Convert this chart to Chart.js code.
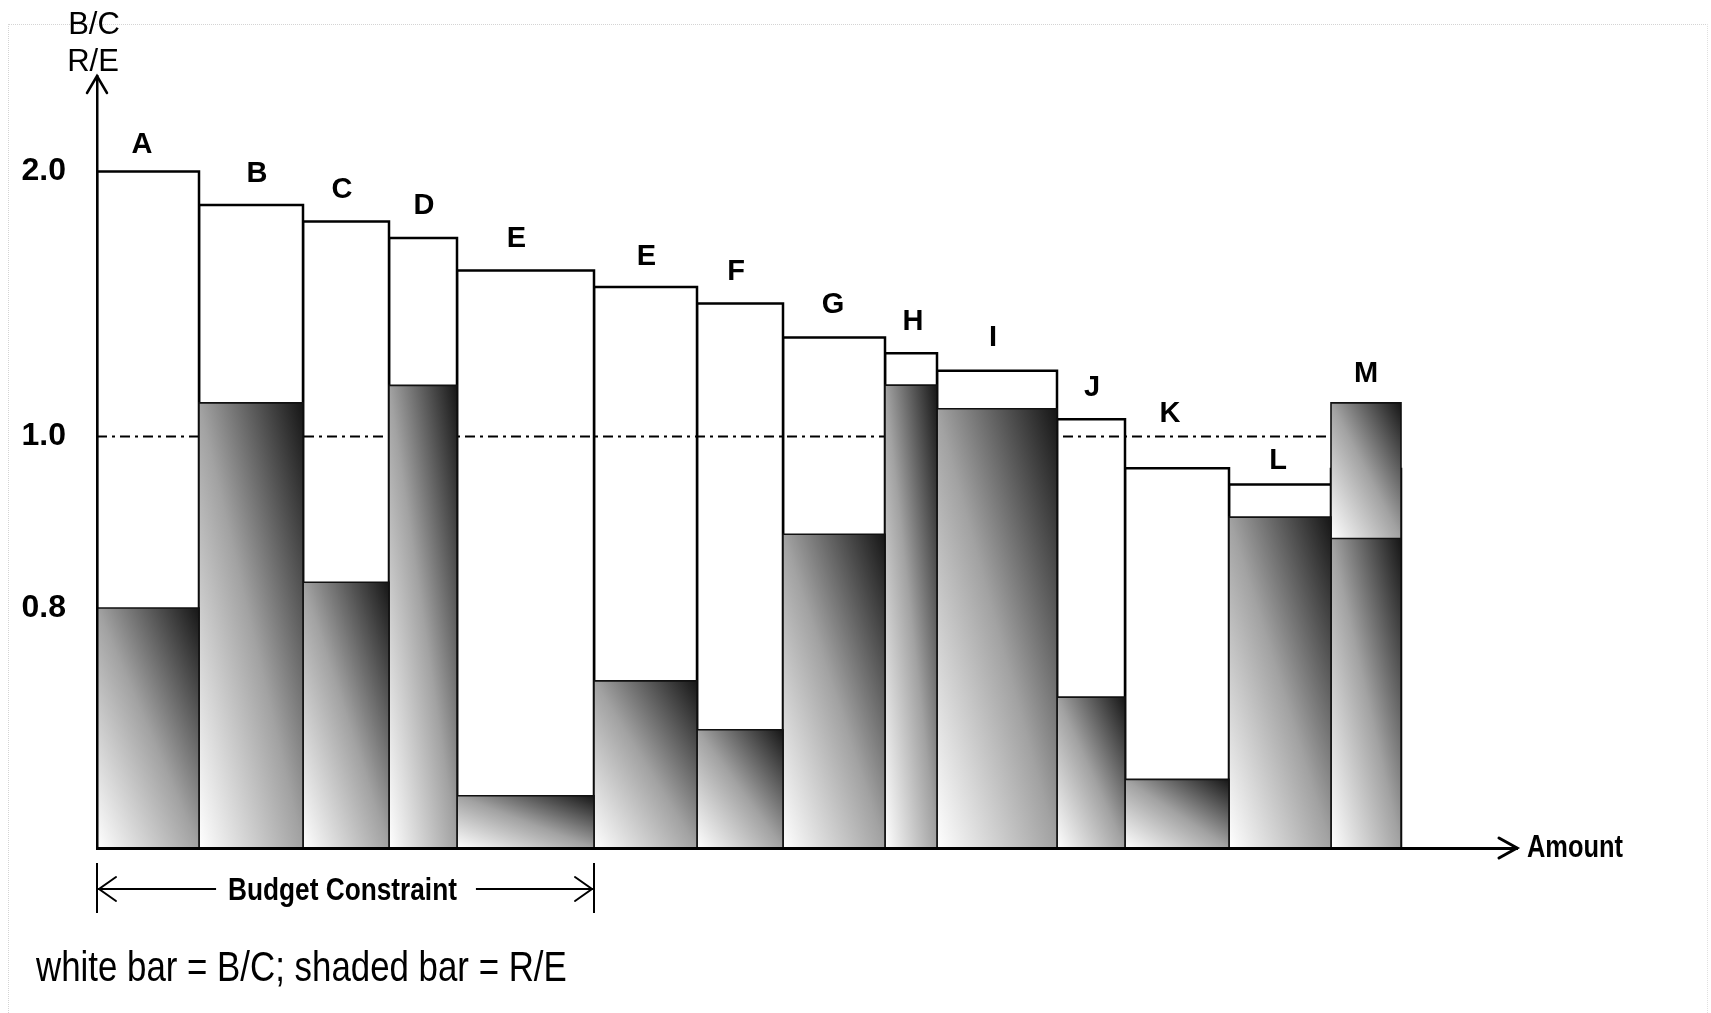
<!DOCTYPE html>
<html>
<head>
<meta charset="utf-8">
<title>B/C and R/E ranking</title>
<script src="https://cdn.jsdelivr.net/npm/chart.js@4.4.1/dist/chart.umd.min.js"></script>
<style>
  html, body { margin: 0; padding: 0; background: #ffffff; }
  #wrap { position: relative; width: 1711px; height: 1013px; overflow: hidden; }
  #frame { position: absolute; left: 8px; top: 24px; width: 1698px; height: 1100px;
           border-left: 1px dotted #d4d4d4; border-top: 1px dotted #d4d4d4; border-right: 1px dotted #e0e0e0; }
  #c { position: absolute; left: 0; top: 0; }
</style>
</head>
<body>
<div id="wrap"><div id="frame"></div><canvas id="c" width="1711" height="1013"></canvas></div>
<script>
// ---------------- data ----------------
const categories   = ['A','B','C','D','E','E','F','G','H','I','J','K','L','M'];
const amounts      = [10.2, 10.4, 8.6, 6.8, 13.7, 10.3, 8.6, 10.2, 5.2, 12.0, 6.8, 10.4, 10.2, 7.0];
const bcRatio      = [2.000, 1.873, 1.811, 1.749, 1.626, 1.564, 1.502, 1.374, 1.314, 1.248, 1.065, 0.963, 0.944, 0.962];
const reRatio      = [0.800, 1.127, 0.830, 1.193, 0.581, 0.715, 0.658, 0.886, 1.194, 1.105, 0.696, 0.600, 0.906, 0.881];
const reRatioUpper = [null, null, null, null, null, null, null, null, null, null, null, null, null, 1.127];
const yTickValues  = [0.8, 1.0, 2.0];
const cutoffRatio  = 1.0;
const budgetProjects = 5;              // projects A..E fit in the budget
const yTitle = ['B/C', 'R/E'];
const xTitle = 'Amount';
const budgetLabel = 'Budget Constraint';
const noteText = 'white bar = B/C; shaded bar = R/E';

// ---------------- layout / style config ----------------
const Y_MIN = 0.52, Y_MAX = 2.36, Y_BREAK = 1.0, Y_BREAK_FRACTION = 0.533;
const X_MAX = 142;
// label nudges (px) relative to bar centre / bar top
const labelNudge = [[-6,-29],[6,-34],[-4,-34],[1,-34],[-9,-34],[1,-33],[-4,-34],[-1,-35],[2,-34],[-4,-35],[1,-34],[-7,-57],[-2,-26],[0,-31]];

const SANS = '"Liberation Sans", Arial, sans-serif';
function hasFont(name) {
  const c = document.createElement('canvas').getContext('2d');
  const s = 'white bar = B/C; WMmi Budget';
  c.font = '40px monospace'; const w1 = c.measureText(s).width;
  c.font = '40px "' + name + '", monospace'; const w2 = c.measureText(s).width;
  return Math.abs(w1 - w2) > 0.5;
}
const narrowOK = hasFont('Liberation Sans Narrow');
function narrowFont(weight, size) {
  return narrowOK ? `${weight} ${size}px "Liberation Sans Narrow"` : `${weight} ${size}px ${SANS}`;
}
const NARROW_SCALE = narrowOK ? 1 : 0.82;
function drawNarrow(ctx, text, x, y, weight, size, align) {
  ctx.save();
  ctx.font = narrowFont(weight, size);
  ctx.textAlign = align; ctx.textBaseline = 'alphabetic';
  ctx.translate(x, y); ctx.scale(NARROW_SCALE, 1);
  ctx.fillText(text, 0, 0);
  ctx.restore();
}
function narrowWidth(ctx, text, weight, size) {
  ctx.save(); ctx.font = narrowFont(weight, size);
  const w = ctx.measureText(text).width * NARROW_SCALE; ctx.restore(); return w;
}

// ---------------- piecewise (broken) linear scale ----------------
class BrokenLinearScale extends Chart.LinearScale {
  _dec(v) {
    const min = this.min, max = this.max;
    if (v <= Y_BREAK) return (v - min) / (Y_BREAK - min) * Y_BREAK_FRACTION;
    return Y_BREAK_FRACTION + (v - Y_BREAK) / (max - Y_BREAK) * (1 - Y_BREAK_FRACTION);
  }
  getPixelForValue(value) {
    if (value === null || value === undefined || isNaN(value)) return NaN;
    return this.getPixelForDecimal(this._dec(value));
  }
  getValueForPixel(pixel) {
    const d = this.getDecimalForPixel(pixel);
    if (d <= Y_BREAK_FRACTION) return this.min + d / Y_BREAK_FRACTION * (Y_BREAK - this.min);
    return Y_BREAK + (d - Y_BREAK_FRACTION) / (1 - Y_BREAK_FRACTION) * (this.max - Y_BREAK);
  }
}
BrokenLinearScale.id = 'brokenLinear';
BrokenLinearScale.defaults = Chart.LinearScale.defaults;
Chart.register(BrokenLinearScale);

// ---------------- build datasets from the arrays ----------------
const starts = [];
amounts.reduce((acc, w, i) => { starts[i] = acc; return acc + w; }, 0);
const ends = amounts.map((w, i) => starts[i] + w);
const totalAmount = ends[ends.length - 1];
const budgetAmount = ends[budgetProjects - 1];

function rectPoints(x0, x1, y0, y1) {
  return [{x: x0, y: y0}, {x: x0, y: y1}, {x: x1, y: y1}, {x: x1, y: y0}];
}
function shadeGradient(chart, x0v, x1v, y0v, y1v) {
  const area = chart.chartArea;
  if (!area) return '#888888';
  const xs = chart.scales.x, ys = chart.scales.y;
  const L = xs.getPixelForValue(x0v), R = xs.getPixelForValue(x1v);
  const B = ys.getPixelForValue(y0v), T = ys.getPixelForValue(y1v);
  const w = R - L, h = B - T;
  const L2 = w * w + h * h;
  // isolines parallel to the top-left -> bottom-right diagonal
  const ex = L + h * 2 * w * h / L2, ey = B - w * 2 * w * h / L2;
  const g = chart.ctx.createLinearGradient(L, B, ex, ey);
  g.addColorStop(0, '#ffffff');
  g.addColorStop(0.5, '#a2a2a2');
  g.addColorStop(1, '#161616');
  return g;
}

const datasets = [];
categories.forEach((c, i) => {
  datasets.push({
    label: c + ' B/C', data: rectPoints(starts[i], ends[i], Y_MIN, bcRatio[i]),
    borderColor: '#000', borderWidth: 2.5, backgroundColor: '#ffffff', fill: 'start',
    pointRadius: 0, tension: 0, borderJoinStyle: 'miter', order: 30
  });
});
datasets.push({
  label: 'cut-off', data: [{x: 0, y: cutoffRatio}, {x: totalAmount, y: cutoffRatio}],
  borderColor: '#000', borderWidth: 2, borderDash: [10, 5, 3, 5], fill: false,
  pointRadius: 0, order: 20
});
categories.forEach((c, i) => {
  const blocks = [[Y_MIN, reRatio[i]]];
  if (reRatioUpper[i] !== null) blocks.push([reRatio[i], reRatioUpper[i]]);
  blocks.forEach(([from, to]) => {
    datasets.push({
      label: c + ' R/E', data: rectPoints(starts[i], ends[i], from, to),
      borderColor: '#111', borderWidth: 1.6,
      backgroundColor: (ctx) => shadeGradient(ctx.chart, starts[i], ends[i], from, to),
      fill: from === Y_MIN ? 'start' : {value: from},
      pointRadius: 0, tension: 0, borderJoinStyle: 'miter', order: 10
    });
  });
});

// ---------------- annotations ----------------
const annotations = {
  id: 'annotations',
  afterDraw(chart) {
    const {ctx, chartArea: a, scales: {x, y}} = chart;
    ctx.save();
    ctx.strokeStyle = '#000'; ctx.fillStyle = '#000';
    ctx.lineCap = 'round'; ctx.lineJoin = 'miter';
    // axis arrowheads
    ctx.lineWidth = 2.5;
    ctx.beginPath(); ctx.moveTo(a.left - 10, a.top + 17); ctx.lineTo(a.left, a.top); ctx.lineTo(a.left + 10, a.top + 17); ctx.stroke();
    ctx.lineWidth = 3;
    ctx.beginPath(); ctx.moveTo(a.right - 18, a.bottom - 10); ctx.lineTo(a.right, a.bottom); ctx.lineTo(a.right - 18, a.bottom + 10); ctx.stroke();
    // y axis title
    ctx.font = '31px ' + SANS; ctx.textAlign = 'center'; ctx.textBaseline = 'alphabetic';
    ctx.fillText(yTitle[0], a.left - 3, a.top - 42);
    ctx.fillText(yTitle[1], a.left - 4, a.top - 5);
    // x axis title
    drawNarrow(ctx, xTitle, a.right + 10, a.bottom + 9, 'bold', 31, 'left');
    // bar letters
    ctx.font = 'bold 29px ' + SANS; ctx.textAlign = 'center'; ctx.textBaseline = 'alphabetic';
    categories.forEach((c, i) => {
      const top = Math.max(bcRatio[i], reRatioUpper[i] !== null ? reRatioUpper[i] : reRatio[i]);
      const cx = x.getPixelForValue((starts[i] + ends[i]) / 2) + labelNudge[i][0];
      const cy = y.getPixelForValue(top) + labelNudge[i][1];
      ctx.fillText(c, cx, cy + 10.5);
    });
    // budget constraint bracket
    const xl = x.getPixelForValue(0), xr = x.getPixelForValue(budgetAmount);
    const by = a.bottom + 41;
    ctx.lineWidth = 2; ctx.lineCap = 'butt';
    ctx.beginPath();
    ctx.moveTo(xl, a.bottom + 15); ctx.lineTo(xl, a.bottom + 65);
    ctx.moveTo(xr, a.bottom + 15); ctx.lineTo(xr, a.bottom + 65);
    ctx.stroke();
    const tw = narrowWidth(ctx, budgetLabel, 'bold', 32);
    const tcx = (xl + xr) / 2 - 3;
    ctx.beginPath();
    ctx.moveTo(xl + 1, by); ctx.lineTo(tcx - tw / 2 - 12, by);
    ctx.moveTo(tcx + tw / 2 + 19, by); ctx.lineTo(xr - 1, by);
    ctx.stroke();
    ctx.lineCap = 'round';
    ctx.beginPath();
    ctx.moveTo(xl + 19, by - 12); ctx.lineTo(xl + 2, by); ctx.lineTo(xl + 19, by + 12);
    ctx.moveTo(xr - 19, by - 12); ctx.lineTo(xr - 2, by); ctx.lineTo(xr - 19, by + 12);
    ctx.stroke();
    drawNarrow(ctx, budgetLabel, tcx, by + 11, 'bold', 32, 'center');
    // note
    drawNarrow(ctx, noteText, 36, 981, 'normal', 42.5, 'left');
    ctx.restore();
  }
};

Chart.defaults.font.family = SANS;
new Chart(document.getElementById('c'), {
  type: 'line',
  data: { datasets },
  options: {
    responsive: false,
    animation: false,
    events: [],
    layout: { padding: { top: 76, right: 194, bottom: 165, left: 0 } },
    plugins: { legend: { display: false }, tooltip: { enabled: false }, title: { display: false } },
    scales: {
      x: {
        type: 'linear', min: 0, max: X_MAX,
        grid: { display: false, drawTicks: false },
        ticks: { display: false },
        border: { display: true, color: '#000', width: 3, z: 1 },
        afterFit: (s) => { s.height = 0; }
      },
      y: {
        type: 'brokenLinear', min: Y_MIN, max: Y_MAX,
        grid: { display: false, drawTicks: false },
        border: { display: true, color: '#000', width: 2.5, z: 1 },
        afterBuildTicks: (s) => { s.ticks = yTickValues.map(v => ({ value: v })); },
        ticks: {
          autoSkip: false, padding: 31, color: '#000',
          font: { family: SANS, size: 32, weight: 'bold' },
          callback: (v) => Number(v).toFixed(1)
        },
        afterFit: (s) => { s.width = 97; }
      }
    }
  },
  plugins: [annotations]
});
</script>
</body>
</html>
